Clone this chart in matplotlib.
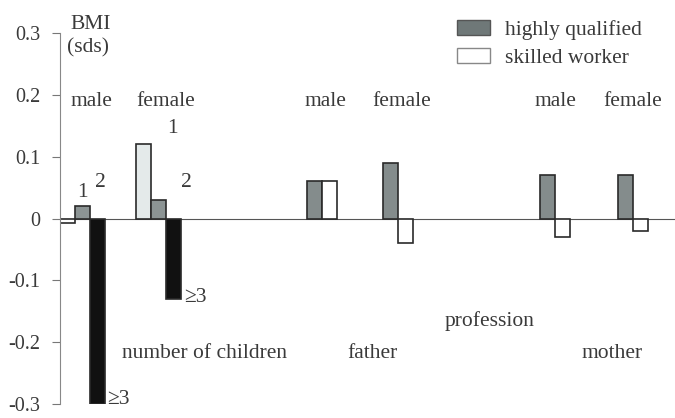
import matplotlib
matplotlib.use("Agg")
import matplotlib.pyplot as plt
from matplotlib.patches import Patch

plt.rcParams['font.family'] = ['Liberation Serif', 'DejaVu Serif']

# BMI (sds) by number of children (1, 2, >=3) for male / female
hijos_etiquetas = ["1", "2", "\u22653"]
hijos_male = [-0.008, 0.02, -0.30]
hijos_female = [0.12, 0.03, -0.13]
hijos_colores = ["#ffffff", "#8c9494", "#111111"]
hijos_colores_female = ["#e4eaea", "#8c9494", "#111111"]

# profession of father / mother: highly qualified vs skilled worker
grupos_prof = ["father male", "father female", "mother male", "mother female"]
prof_alto = [0.06, 0.09, 0.07, 0.07]
prof_obrero = [0.06, -0.04, -0.03, -0.02]

# posiciones (borde izquierdo de cada grupo)
pos_hijos = [0, 76]
pos_prof = [247, 323, 480, 558]
ancho = 15

txt = "#3a3a3a"
borde = "#2a2a2a"

fig = plt.figure(figsize=(6.75, 4.18), dpi=100)
ax = fig.add_axes([60 / 675, 1 - 404 / 418, 615 / 675, 371 / 418])

for x0, valores, colores in zip(pos_hijos, [hijos_male, hijos_female],
                                [hijos_colores, hijos_colores_female]):
    for i, v in enumerate(valores):
        ax.bar(x0 + i * ancho, v, width=ancho, align='edge', color=colores[i],
               edgecolor=borde, linewidth=1.2)

for x0, a, b in zip(pos_prof, prof_alto, prof_obrero):
    ax.bar(x0, a, width=ancho, align='edge', color="#848c8c", edgecolor=borde, linewidth=1.2)
    ax.bar(x0 + ancho, b, width=ancho, align='edge', color="white", edgecolor=borde, linewidth=1.2)

ax.axhline(0, color="#555555", linewidth=0.8, zorder=0)

ax.set_xlim(0, 615)
ax.set_ylim(-0.3, 0.3)
ax.set_yticks([0.3, 0.2, 0.1, 0, -0.1, -0.2, -0.3])
ax.set_yticklabels(["0.3", "0.2", "0.1", "0", "-0.1", "-0.2", "-0.3"])
ax.tick_params(axis='y', direction='out', length=6, width=0.8, color="#777777",
               labelsize=14.5, labelcolor=txt, pad=8)
ax.set_xticks([])
for s in ["top", "right", "bottom"]:
    ax.spines[s].set_visible(False)
ax.spines["left"].set_color("#888888")
ax.spines["left"].set_linewidth(0.8)

fs = 15.5
ax.text(10, 0.314, "BMI", fontsize=fs, color=txt, ha='left', va='center', clip_on=False)
ax.text(7, 0.276, "(sds)", fontsize=fs, color=txt, ha='left', va='center')

# etiquetas de sexo
for x, s in [(31, "male"), (106, "female"), (265, "male"), (342, "female"),
             (495, "male"), (573, "female")]:
    ax.text(x, 0.19, s, fontsize=fs, color=txt, ha='center', va='center')

# etiquetas de número de hijos
ax.text(22, 0.042, hijos_etiquetas[0], fontsize=fs, color=txt, ha='center', va='center')
ax.text(40, 0.059, hijos_etiquetas[1], fontsize=fs, color=txt, ha='center', va='center')
ax.text(112, 0.145, hijos_etiquetas[0], fontsize=fs, color=txt, ha='center', va='center')
ax.text(126, 0.059, hijos_etiquetas[1], fontsize=fs, color=txt, ha='center', va='center')
ax.text(124, -0.128, hijos_etiquetas[2], fontsize=fs, color=txt, ha='left', va='center')
ax.text(47, -0.292, hijos_etiquetas[2], fontsize=fs, color=txt, ha='left', va='center')

ax.text(145, -0.219, "number of children", fontsize=fs, color=txt, ha='center', va='center')
ax.text(312, -0.219, "father", fontsize=fs, color=txt, ha='center', va='center')
ax.text(430, -0.166, "profession", fontsize=fs, color=txt, ha='center', va='center')
ax.text(552, -0.219, "mother", fontsize=fs, color=txt, ha='center', va='center')

leyenda = [Patch(facecolor="#6f7878", edgecolor="#555555", label="highly qualified"),
           Patch(facecolor="white", edgecolor="#888888", label="skilled worker")]
fig.legend(handles=leyenda, loc='upper left', bbox_to_anchor=(438 / 675, 1 - 1 / 418),
           frameon=False, fontsize=fs, labelcolor=txt, handlelength=1.5,
           handleheight=0.7, handletextpad=0.7, labelspacing=0.35)

fig.savefig("out.png", dpi=100)
